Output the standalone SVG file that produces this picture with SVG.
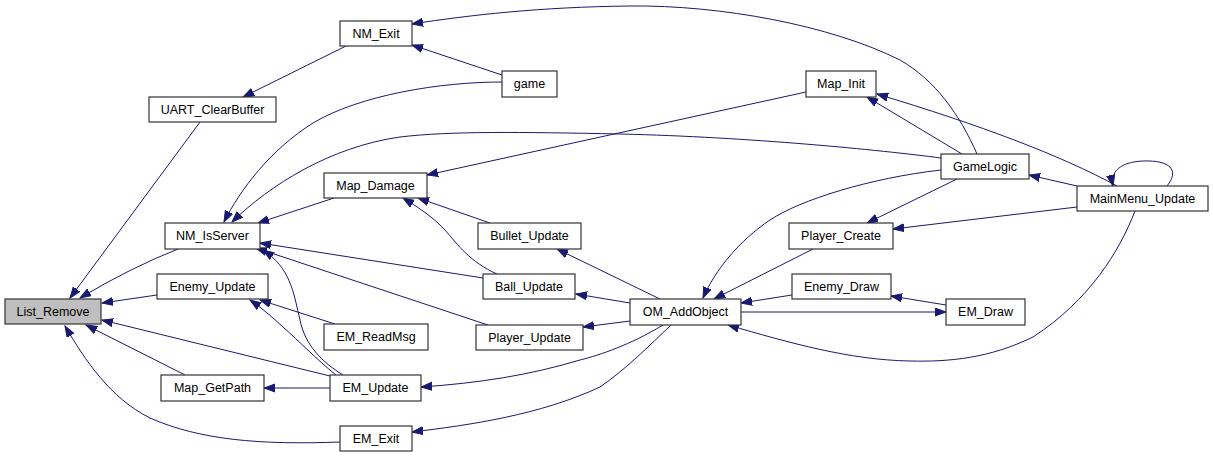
<svg xmlns="http://www.w3.org/2000/svg" width="1213" height="458" viewBox="0 0 1213 458">
<style>
.n rect{fill:#ffffff;stroke:#333333;stroke-width:1.2}
.n text{font-family:"Liberation Sans",Arial,sans-serif;font-size:12.5px;fill:#000;text-anchor:middle}
.e path{fill:none;stroke:#191970;stroke-width:1;marker-end:url(#a)}
</style>
<defs>
<marker id="a" markerWidth="12" markerHeight="10" refX="11" refY="4.5" orient="auto" markerUnits="userSpaceOnUse">
<polygon points="0,0.5 11,4.5 0,8.5" fill="#191970" stroke="#191970" stroke-width="1"/>
</marker>
</defs>
<rect width="1213" height="458" fill="#ffffff"/>
<g id="edges" class="e">
<path d="M200,122 L70,298"/>
<path d="M346,46 L243,97"/>
<path d="M178,249 Q130,268 80,298"/>
<path d="M157,295 L102,303"/>
<path d="M330,376 L102,320"/>
<path d="M185,375 L86,325"/>
<path d="M340,442 C260,445 200,440 150,418 C110,398 85,360 65,326"/>
<path d="M502,75 L412,45"/>
<path d="M977,154 C960,115 935,80 900,60 C830,25 720,5 630,6 C540,7 470,15 412,24"/>
<path d="M502,82 C440,82 360,95 313,123 C270,150 240,190 224,222"/>
<path d="M941,158 C880,150 750,137 620,134 C520,132 450,131 400,137 C330,147 270,185 232,222"/>
<path d="M334,198 L258,223"/>
<path d="M806,92 L427,175"/>
<path d="M490,223 L418,198"/>
<path d="M497,274 C470,262 458,245 445,230 C432,216 416,206 403,198"/>
<path d="M483,278 L260,243"/>
<path d="M488,325 L256,248"/>
<path d="M343,375 C322,362 305,345 300,320 C293,290 290,268 263,250"/>
<path d="M336,375 C315,358 300,342 283,327 C272,317 262,308 250,300"/>
<path d="M335,324 L260,300"/>
<path d="M330,388 L264,388"/>
<path d="M660,299 L557,249"/>
<path d="M630,303 L576,294"/>
<path d="M630,321 L583,327"/>
<path d="M663,325 C630,345 600,355 580,360 C530,375 480,383 421,387"/>
<path d="M671,325 C650,345 625,370 600,387 C540,415 470,425 412,432"/>
<path d="M941,170 C870,178 800,200 770,220 C740,240 715,270 703,298"/>
<path d="M813,249 L714,299"/>
<path d="M792,295 L741,303"/>
<path d="M741,312 L946,312"/>
<path d="M946,305 L891,296"/>
<path d="M1135,211 C1120,250 1090,300 1033,337 C990,358 950,362 910,361 C850,360 790,343 728,325"/>
<path d="M962,154 L867,97"/>
<path d="M1117,186 C1060,155 980,125 877,94"/>
<path d="M1077,186 L1029,175"/>
<path d="M957,179 L867,223"/>
<path d="M1077,207 L893,229"/>
<path d="M1167,186 C1180,170 1170,160 1143,161 C1120,162 1110,172 1113,186"/>
</g>
<g id="List_Remove" class="n"><rect x="5" y="299" width="96" height="25" style="fill:#bfbfbf"/><text x="53" y="316">List_Remove</text></g>
<g id="UART_ClearBuffer" class="n"><rect x="149" y="97" width="127" height="25"/><text x="212.5" y="114">UART_ClearBuffer</text></g>
<g id="NM_Exit" class="n"><rect x="340" y="21" width="72" height="25"/><text x="376" y="38">NM_Exit</text></g>
<g id="NM_IsServer" class="n"><rect x="165" y="223" width="95" height="26"/><text x="212.5" y="240">NM_IsServer</text></g>
<g id="Enemy_Update" class="n"><rect x="157" y="274" width="111" height="25"/><text x="212.5" y="291">Enemy_Update</text></g>
<g id="Map_GetPath" class="n"><rect x="161" y="375" width="103" height="26"/><text x="212.5" y="392">Map_GetPath</text></g>
<g id="EM_ReadMsg" class="n"><rect x="324" y="324" width="104" height="26"/><text x="376" y="341">EM_ReadMsg</text></g>
<g id="EM_Update" class="n"><rect x="330" y="375" width="91" height="26"/><text x="375.5" y="392">EM_Update</text></g>
<g id="EM_Exit" class="n"><rect x="340" y="426" width="72" height="25"/><text x="376" y="443">EM_Exit</text></g>
<g id="Map_Damage" class="n"><rect x="324" y="173" width="103" height="25"/><text x="375.5" y="190">Map_Damage</text></g>
<g id="game" class="n"><rect x="502" y="71" width="55" height="26"/><text x="529.5" y="88">game</text></g>
<g id="Bullet_Update" class="n"><rect x="478" y="223" width="103" height="26"/><text x="529.5" y="240">Bullet_Update</text></g>
<g id="Ball_Update" class="n"><rect x="483" y="274" width="92" height="25"/><text x="529" y="291">Ball_Update</text></g>
<g id="Player_Update" class="n"><rect x="476" y="325" width="107" height="25"/><text x="529.5" y="342">Player_Update</text></g>
<g id="OM_AddObject" class="n"><rect x="630" y="299" width="111" height="26"/><text x="685.5" y="316">OM_AddObject</text></g>
<g id="Map_Init" class="n"><rect x="806" y="71" width="70" height="26"/><text x="841" y="88">Map_Init</text></g>
<g id="GameLogic" class="n"><rect x="941" y="154" width="88" height="25"/><text x="985" y="171">GameLogic</text></g>
<g id="MainMenu_Update" class="n"><rect x="1077" y="186" width="131" height="25"/><text x="1142.5" y="203">MainMenu_Update</text></g>
<g id="Player_Create" class="n"><rect x="789" y="223" width="104" height="26"/><text x="841" y="240">Player_Create</text></g>
<g id="Enemy_Draw" class="n"><rect x="792" y="274" width="99" height="25"/><text x="841.5" y="291">Enemy_Draw</text></g>
<g id="EM_Draw" class="n"><rect x="946" y="299" width="79" height="26"/><text x="985.5" y="316">EM_Draw</text></g>
</svg>
